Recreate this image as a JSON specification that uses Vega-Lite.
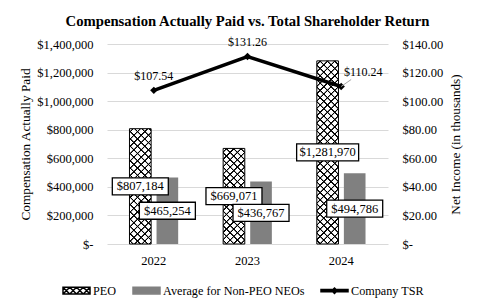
{
  "$schema": "https://vega.github.io/schema/vega-lite/v6.json",
  "width": 281,
  "height": 200,
  "autosize": {"type": "none"},
  "padding": {"left": 107, "top": 44, "right": 93, "bottom": 60},
  "background": "white",
  "config": {
    "view": {"stroke": null},
    "font": "Liberation Serif",
    "legend": {
      "orient": "none",
      "legendX": -45,
      "legendY": 232,
      "direction": "horizontal",
      "labelFont": "Liberation Serif",
      "labelFontSize": 12.2,
      "labelColor": "black",
      "labelOffset": 2,
      "columnPadding": 13,
      "symbolSize": 729,
      "symbolOpacity": 1
    }
  },
  "title": {
    "text": "Compensation Actually Paid vs. Total Shareholder Return",
    "font": "Liberation Serif",
    "fontSize": 14.7,
    "fontWeight": "bold",
    "color": "black",
    "anchor": "middle",
    "offset": 8
  },
  "params": [
    {
      "name": "hatchStops",
      "value": [
        {"offset": 0.01165, "color": "rgba(0,0,0,0)"}, {"offset": 0.01439, "color": "#000"}, {"offset": 0.01895, "color": "#000"}, {"offset": 0.02169, "color": "rgba(0,0,0,0)"},
        {"offset": 0.04498, "color": "rgba(0,0,0,0)"}, {"offset": 0.04772, "color": "#000"}, {"offset": 0.05228, "color": "#000"}, {"offset": 0.05502, "color": "rgba(0,0,0,0)"},
        {"offset": 0.07831, "color": "rgba(0,0,0,0)"}, {"offset": 0.08105, "color": "#000"}, {"offset": 0.08561, "color": "#000"}, {"offset": 0.08835, "color": "rgba(0,0,0,0)"},
        {"offset": 0.11165, "color": "rgba(0,0,0,0)"}, {"offset": 0.11439, "color": "#000"}, {"offset": 0.11895, "color": "#000"}, {"offset": 0.12169, "color": "rgba(0,0,0,0)"},
        {"offset": 0.14498, "color": "rgba(0,0,0,0)"}, {"offset": 0.14772, "color": "#000"}, {"offset": 0.15228, "color": "#000"}, {"offset": 0.15502, "color": "rgba(0,0,0,0)"},
        {"offset": 0.17831, "color": "rgba(0,0,0,0)"}, {"offset": 0.18105, "color": "#000"}, {"offset": 0.18561, "color": "#000"}, {"offset": 0.18835, "color": "rgba(0,0,0,0)"},
        {"offset": 0.21165, "color": "rgba(0,0,0,0)"}, {"offset": 0.21439, "color": "#000"}, {"offset": 0.21895, "color": "#000"}, {"offset": 0.22169, "color": "rgba(0,0,0,0)"},
        {"offset": 0.24498, "color": "rgba(0,0,0,0)"}, {"offset": 0.24772, "color": "#000"}, {"offset": 0.25228, "color": "#000"}, {"offset": 0.25502, "color": "rgba(0,0,0,0)"},
        {"offset": 0.27831, "color": "rgba(0,0,0,0)"}, {"offset": 0.28105, "color": "#000"}, {"offset": 0.28561, "color": "#000"}, {"offset": 0.28835, "color": "rgba(0,0,0,0)"},
        {"offset": 0.31165, "color": "rgba(0,0,0,0)"}, {"offset": 0.31439, "color": "#000"}, {"offset": 0.31895, "color": "#000"}, {"offset": 0.32169, "color": "rgba(0,0,0,0)"},
        {"offset": 0.34498, "color": "rgba(0,0,0,0)"}, {"offset": 0.34772, "color": "#000"}, {"offset": 0.35228, "color": "#000"}, {"offset": 0.35502, "color": "rgba(0,0,0,0)"},
        {"offset": 0.37831, "color": "rgba(0,0,0,0)"}, {"offset": 0.38105, "color": "#000"}, {"offset": 0.38561, "color": "#000"}, {"offset": 0.38835, "color": "rgba(0,0,0,0)"},
        {"offset": 0.41165, "color": "rgba(0,0,0,0)"}, {"offset": 0.41439, "color": "#000"}, {"offset": 0.41895, "color": "#000"}, {"offset": 0.42169, "color": "rgba(0,0,0,0)"},
        {"offset": 0.44498, "color": "rgba(0,0,0,0)"}, {"offset": 0.44772, "color": "#000"}, {"offset": 0.45228, "color": "#000"}, {"offset": 0.45502, "color": "rgba(0,0,0,0)"},
        {"offset": 0.47831, "color": "rgba(0,0,0,0)"}, {"offset": 0.48105, "color": "#000"}, {"offset": 0.48561, "color": "#000"}, {"offset": 0.48835, "color": "rgba(0,0,0,0)"},
        {"offset": 0.51165, "color": "rgba(0,0,0,0)"}, {"offset": 0.51439, "color": "#000"}, {"offset": 0.51895, "color": "#000"}, {"offset": 0.52169, "color": "rgba(0,0,0,0)"},
        {"offset": 0.54498, "color": "rgba(0,0,0,0)"}, {"offset": 0.54772, "color": "#000"}, {"offset": 0.55228, "color": "#000"}, {"offset": 0.55502, "color": "rgba(0,0,0,0)"},
        {"offset": 0.57831, "color": "rgba(0,0,0,0)"}, {"offset": 0.58105, "color": "#000"}, {"offset": 0.58561, "color": "#000"}, {"offset": 0.58835, "color": "rgba(0,0,0,0)"},
        {"offset": 0.61165, "color": "rgba(0,0,0,0)"}, {"offset": 0.61439, "color": "#000"}, {"offset": 0.61895, "color": "#000"}, {"offset": 0.62169, "color": "rgba(0,0,0,0)"},
        {"offset": 0.64498, "color": "rgba(0,0,0,0)"}, {"offset": 0.64772, "color": "#000"}, {"offset": 0.65228, "color": "#000"}, {"offset": 0.65502, "color": "rgba(0,0,0,0)"},
        {"offset": 0.67831, "color": "rgba(0,0,0,0)"}, {"offset": 0.68105, "color": "#000"}, {"offset": 0.68561, "color": "#000"}, {"offset": 0.68835, "color": "rgba(0,0,0,0)"},
        {"offset": 0.71165, "color": "rgba(0,0,0,0)"}, {"offset": 0.71439, "color": "#000"}, {"offset": 0.71895, "color": "#000"}, {"offset": 0.72169, "color": "rgba(0,0,0,0)"},
        {"offset": 0.74498, "color": "rgba(0,0,0,0)"}, {"offset": 0.74772, "color": "#000"}, {"offset": 0.75228, "color": "#000"}, {"offset": 0.75502, "color": "rgba(0,0,0,0)"},
        {"offset": 0.77831, "color": "rgba(0,0,0,0)"}, {"offset": 0.78105, "color": "#000"}, {"offset": 0.78561, "color": "#000"}, {"offset": 0.78835, "color": "rgba(0,0,0,0)"},
        {"offset": 0.81165, "color": "rgba(0,0,0,0)"}, {"offset": 0.81439, "color": "#000"}, {"offset": 0.81895, "color": "#000"}, {"offset": 0.82169, "color": "rgba(0,0,0,0)"},
        {"offset": 0.84498, "color": "rgba(0,0,0,0)"}, {"offset": 0.84772, "color": "#000"}, {"offset": 0.85228, "color": "#000"}, {"offset": 0.85502, "color": "rgba(0,0,0,0)"},
        {"offset": 0.87831, "color": "rgba(0,0,0,0)"}, {"offset": 0.88105, "color": "#000"}, {"offset": 0.88561, "color": "#000"}, {"offset": 0.88835, "color": "rgba(0,0,0,0)"},
        {"offset": 0.91165, "color": "rgba(0,0,0,0)"}, {"offset": 0.91439, "color": "#000"}, {"offset": 0.91895, "color": "#000"}, {"offset": 0.92169, "color": "rgba(0,0,0,0)"},
        {"offset": 0.94498, "color": "rgba(0,0,0,0)"}, {"offset": 0.94772, "color": "#000"}, {"offset": 0.95228, "color": "#000"}, {"offset": 0.95502, "color": "rgba(0,0,0,0)"},
        {"offset": 0.97831, "color": "rgba(0,0,0,0)"}, {"offset": 0.98105, "color": "#000"}, {"offset": 0.98561, "color": "#000"}, {"offset": 0.98835, "color": "rgba(0,0,0,0)"}
      ]
    },
    {"name": "hatchA2022", "expr": "{'gradient': 'linear', 'x1': 0, 'y1': 0, 'x2': 0.34444, 'y2': 1.83456, 'stops': hatchStops}"},
    {"name": "hatchA2023", "expr": "{'gradient': 'linear', 'x1': 0, 'y1': 0, 'x2': 0.49368, 'y2': 2.17947, 'stops': hatchStops}"},
    {"name": "hatchA2024", "expr": "{'gradient': 'linear', 'x1': 0, 'y1': 0, 'x2': 0.13941, 'y2': 1.17933, 'stops': hatchStops}"},
    {"name": "hatchB2022", "expr": "{'gradient': 'linear', 'x1': 0, 'y1': 1, 'x2': 0.34444, 'y2': -0.83456, 'stops': hatchStops}"},
    {"name": "hatchB2023", "expr": "{'gradient': 'linear', 'x1': 0, 'y1': 1, 'x2': 0.49368, 'y2': -1.17947, 'stops': hatchStops}"},
    {"name": "hatchB2024", "expr": "{'gradient': 'linear', 'x1': 0, 'y1': 1, 'x2': 0.13941, 'y2': -0.17933, 'stops': hatchStops}"}
  ],
  "datasets": {
    "comp": [
      {"year": "2022", "series": "PEO", "value": 807184},
      {"year": "2022", "series": "Average for Non-PEO NEOs", "value": 465254},
      {"year": "2023", "series": "PEO", "value": 669071},
      {"year": "2023", "series": "Average for Non-PEO NEOs", "value": 436767},
      {"year": "2024", "series": "PEO", "value": 1281970},
      {"year": "2024", "series": "Average for Non-PEO NEOs", "value": 494786}
    ],
    "tsr": [
      {"year": "2022", "tsr": 107.54},
      {"year": "2023", "tsr": 131.26},
      {"year": "2024", "tsr": 110.24}
    ]
  },
  "resolve": {"scale": {"y": "independent"}, "axis": {"y": "independent"}},
  "layer": [
    {
      "data": {"name": "comp"},
      "encoding": {
        "x": {
          "field": "year",
          "type": "nominal",
          "scale": {"paddingInner": 0.48, "paddingOuter": 0.24},
          "axis": {
            "title": null,
            "domain": false,
            "ticks": false,
            "labelAngle": 0,
            "labelPadding": 10,
            "labelFont": "Liberation Serif",
            "labelFontSize": 12.5,
            "labelColor": "black"
          }
        },
        "xOffset": {
          "field": "series",
          "type": "nominal",
          "scale": {"domain": ["PEO", "Average for Non-PEO NEOs"], "paddingInner": 0.2, "paddingOuter": 0}
        },
        "y": {
          "field": "value",
          "type": "quantitative",
          "scale": {"domain": [0, 1400000], "nice": false},
          "axis": {
            "orient": "left",
            "values": [0, 200000, 400000, 600000, 800000, 1000000, 1200000, 1400000],
            "labelExpr": "datum.value === 0 ? '$-\u00a0\u00a0' : format(datum.value, '$,')",
            "title": "Compensation Actually Paid",
            "grid": true,
            "gridColor": "#d9d9d9",
            "domain": false,
            "ticks": false,
            "labelPadding": 14,
            "labelFont": "Liberation Serif",
            "labelFontSize": 12.5,
            "labelColor": "black",
            "titleFont": "Liberation Serif",
            "titleFontSize": 13.3,
            "titleFontWeight": "normal",
            "titleColor": "black",
            "titlePadding": 4
          }
        }
      },
      "layer": [
        {
          "mark": {"type": "bar"},
          "encoding": {
            "color": {
              "field": "series",
              "type": "nominal",
              "scale": {
                "domain": ["PEO", "Average for Non-PEO NEOs", "Company TSR"],
                "range": ["white", "#808080", "black"]
              },
              "legend": {"title": null}
            }
          }
        },
        {
          "transform": [{"filter": "datum.series === 'PEO' && datum.year === '2022'"}],
          "mark": {"type": "bar", "fill": {"expr": "hatchA2022"}}
        },
        {
          "transform": [{"filter": "datum.series === 'PEO' && datum.year === '2023'"}],
          "mark": {"type": "bar", "fill": {"expr": "hatchA2023"}}
        },
        {
          "transform": [{"filter": "datum.series === 'PEO' && datum.year === '2024'"}],
          "mark": {"type": "bar", "fill": {"expr": "hatchA2024"}}
        },
        {
          "transform": [{"filter": "datum.series === 'PEO' && datum.year === '2022'"}],
          "mark": {"type": "bar", "fill": {"expr": "hatchB2022"}, "stroke": "black", "strokeWidth": 1}
        },
        {
          "transform": [{"filter": "datum.series === 'PEO' && datum.year === '2023'"}],
          "mark": {"type": "bar", "fill": {"expr": "hatchB2023"}, "stroke": "black", "strokeWidth": 1}
        },
        {
          "transform": [{"filter": "datum.series === 'PEO' && datum.year === '2024'"}],
          "mark": {"type": "bar", "fill": {"expr": "hatchB2024"}, "stroke": "black", "strokeWidth": 1}
        },
        {
          "transform": [{"filter": "false"}],
          "mark": {"type": "point", "filled": true, "opacity": 1, "strokeWidth": 1},
          "encoding": {
            "color": {"field": "series", "type": "nominal", "legend": {"title": null}},
            "stroke": {
              "field": "series",
              "type": "nominal",
              "scale": {
                "domain": ["PEO", "Average for Non-PEO NEOs", "Company TSR"],
                "range": ["black", "#808080", "black"]
              },
              "legend": {"title": null}
            },
            "shape": {
              "field": "series",
              "type": "nominal",
              "scale": {
                "domain": ["PEO", "Average for Non-PEO NEOs", "Company TSR"],
                "range": [
                  "M-1,-0.25H1V0.25H-1ZM-1,-0.25L-0.5,0.25M-0.5,-0.25L0,0.25M0,-0.25L0.5,0.25M0.5,-0.25L1,0.25M-0.5,-0.25L-1,0.25M0,-0.25L-0.5,0.25M0.5,-0.25L0,0.25M1,-0.25L0.5,0.25",
                  "M-1,-0.25H1V0.25H-1Z",
                  "M-1,-0.09H1V0.09H-1ZM0,-0.2L0.2,0L0,0.2L-0.2,0Z"
                ]
              },
              "legend": {"title": null}
            }
          }
        }
      ]
    },
    {
      "data": {"name": "comp"},
      "encoding": {
        "x": {"field": "year", "type": "nominal"},
        "xOffset": {"field": "series", "type": "nominal"},
        "y": {
          "field": "value",
          "type": "quantitative",
          "scale": {"domain": [0, 2800000], "nice": false},
          "axis": null
        }
      },
      "layer": [
        {
          "mark": {"type": "point", "filled": true, "fill": "white", "stroke": "black", "strokeWidth": 1.3, "opacity": 1},
          "encoding": {
            "shape": {
              "condition": {"test": "datum.value > 1000000", "value": "M-1,-0.2742H1V0.2742H-1Z"},
              "value": "M-1,-0.3036H1V0.3036H-1Z"
            },
            "size": {
              "condition": {"test": "datum.value > 1000000", "value": 3844},
              "value": 3136
            }
          }
        },
        {
          "mark": {"type": "text", "font": "Liberation Serif", "fontSize": 12.5, "baseline": "middle"},
          "encoding": {
            "text": {"field": "value", "type": "quantitative", "format": "$,.0f"},
            "color": {"value": "black"}
          }
        }
      ]
    },
    {
      "data": {"name": "tsr"},
      "encoding": {
        "x": {"field": "year", "type": "nominal"},
        "y": {
          "field": "tsr",
          "type": "quantitative",
          "scale": {"domain": [0, 140], "nice": false},
          "axis": {
            "orient": "right",
            "values": [0, 20, 40, 60, 80, 100, 120, 140],
            "labelExpr": "datum.value === 0 ? '$-' : format(datum.value, '$.2f')",
            "title": "Net Income (in thousands)",
            "titleAngle": 270,
            "grid": false,
            "domain": false,
            "ticks": false,
            "labelPadding": 14,
            "labelFont": "Liberation Serif",
            "labelFontSize": 12.5,
            "labelColor": "black",
            "titleFont": "Liberation Serif",
            "titleFontSize": 13.2,
            "titleFontWeight": "normal",
            "titleColor": "black",
            "titlePadding": 20
          }
        }
      },
      "layer": [
        {
          "mark": {"type": "line", "color": "black", "strokeWidth": 3.5}
        },
        {
          "mark": {"type": "point", "shape": "diamond", "filled": true, "color": "black", "size": 55, "opacity": 1}
        },
        {
          "transform": [{"filter": "datum.year === '2024'"}],
          "mark": {"type": "rule", "color": "#a6a6a6", "strokeWidth": 1, "x2Offset": 10, "y2Offset": -7},
          "encoding": {
            "x2": {"field": "year"},
            "y2": {"field": "tsr"}
          }
        },
        {
          "transform": [{"filter": "datum.year !== '2024'"}],
          "mark": {"type": "text", "font": "Liberation Serif", "fontSize": 12, "baseline": "middle", "dy": -14},
          "encoding": {
            "text": {"field": "tsr", "type": "quantitative", "format": "$.2f"},
            "color": {"value": "black"}
          }
        },
        {
          "transform": [{"filter": "datum.year === '2024'"}],
          "mark": {"type": "text", "font": "Liberation Serif", "fontSize": 12, "baseline": "middle", "dx": 22, "dy": -15},
          "encoding": {
            "text": {"field": "tsr", "type": "quantitative", "format": "$.2f"},
            "color": {"value": "black"}
          }
        }
      ]
    }
  ]
}
